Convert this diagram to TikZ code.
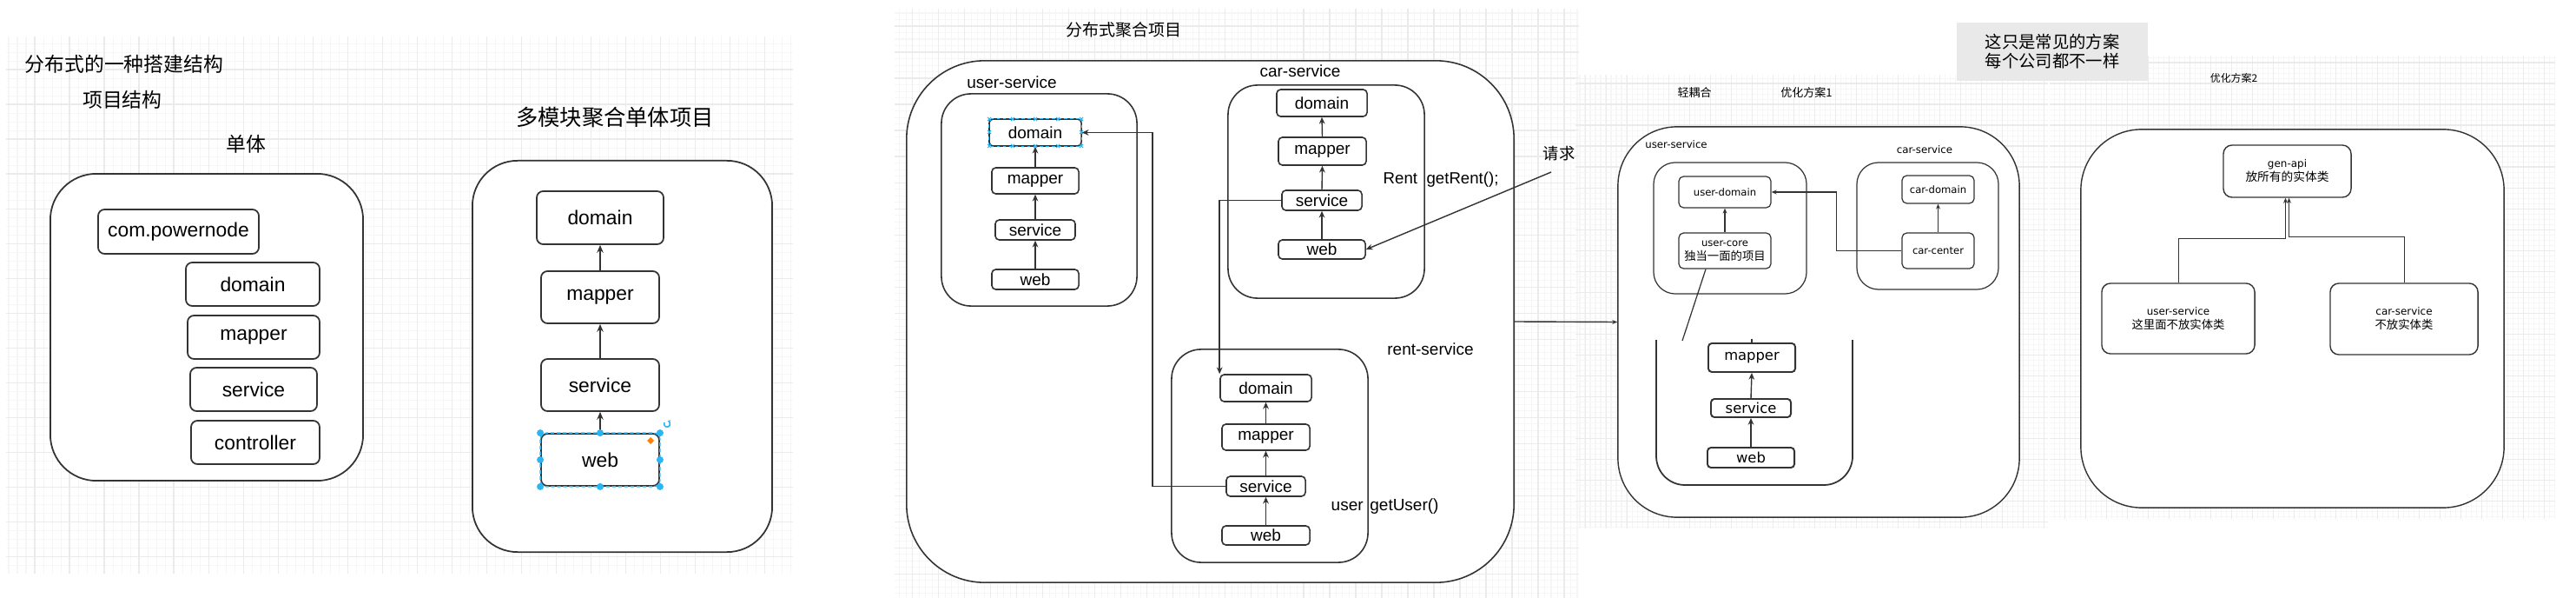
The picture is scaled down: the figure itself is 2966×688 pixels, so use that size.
\documentclass[tikz,border=0pt]{standalone}
\usepackage{fontspec}
\setmainfont{Liberation Sans}
\newfontfamily\cjk{Noto Sans CJK SC}
\newfontfamily\dvs{DejaVu Sans}
\usetikzlibrary{arrows.meta}
\definecolor{ln}{HTML}{333333}
\definecolor{hcol}{HTML}{29B6F2}
\definecolor{gmin}{HTML}{F6F6F6}
\definecolor{gmaj}{HTML}{EBEBEB}
\definecolor{graybox}{HTML}{E9E9E9}
\newcommand\myfs[2]{\fontsize{#1}{#2}\selectfont}
\newcommand\bx[7]{%
  \pgfmathsetmacro\bxw{(#5-#3)/100}%
  \pgfmathsetmacro\bxh{(#6-#4)/100}%
  \pgfmathsetmacro\bxx{(#3+#5)/2}%
  \pgfmathsetmacro\bxy{(#4+#6)/2}%
  \node[#1, minimum width=\bxw cm, minimum height=\bxh cm] (#2) at (\bxx,\bxy) {#7};}
\tikzset{
  box/.style={draw=ln, fill=white, inner sep=0pt, align=center, line width=0.5pt},
  cont/.style={draw=ln, fill=white, inner sep=0pt, line width=0.5pt},
  sonebox/.style={box, rounded corners=0.075cm, font=\myfs{6.5pt}{7.8pt}},
  stwobox/.style={box, rounded corners=0.045cm, line width=0.45pt, font=\myfs{5.4pt}{6.5pt}},
  sthreebox/.style={box, rounded corners=0.055cm, line width=0.35pt, font=\dvs\myfs{3.3pt}{4.55pt}},
  sthreebig/.style={box, rounded corners=0.04cm, line width=0.55pt, font=\dvs\myfs{4.65pt}{5.5pt}},
  sfourbox/.style={box, rounded corners=0.1cm, line width=0.4pt, font=\dvs\myfs{3.4pt}{4.55pt}},
  lab/.style={inner sep=0pt},
  aone/.style={draw=ln, line width=0.45pt, -{Stealth[length=2.5pt,width=2.1pt]}},
  atwo/.style={draw=ln, line width=0.4pt, -{Stealth[length=2.2pt,width=1.9pt]}},
  athree/.style={draw=ln, line width=0.3pt, -{Stealth[length=1.7pt,width=1.4pt]}},
  gridmin/.style={draw=gmin, line width=0.3pt},
  gridmaj/.style={draw=gmaj, line width=0.35pt}
}
\begin{document}
\begin{tikzpicture}[x=0.01cm, y=-0.01cm]
\useasboundingbox (0,688) rectangle (2966,0);
\fill[white] (0,688) rectangle (2966,0);
% background grids
\draw[gridmin, step=0.1cm] (7,660) grid (913,42);
\draw[gridmaj, step=0.4cm] (7,660) grid (913,42);
\draw[gridmin, step=0.075cm] (1030,688) grid (1818,10);
\draw[gridmaj, step=0.3cm] (1030,688) grid (1818,10);
\draw[gridmin, step=0.06cm] (1814,608) grid (2358,86);
\draw[gridmaj, step=0.24cm] (1814,608) grid (2358,86);
\draw[gridmin, step=0.06cm] (2360,597) grid (2942,64);
\draw[gridmaj, step=0.24cm] (2360,597) grid (2942,64);

% ---------- section 1 ----------
\node[lab, font=\cjk\myfs{6.5pt}{7.5pt}, anchor=west] (tone) at (28,74) {分布式的一种搭建结构};
\node[lab, font=\cjk\myfs{6.5pt}{7.5pt}] (ttwo) at (141,115) {项目结构};
\node[lab, font=\cjk\myfs{6.5pt}{7.5pt}] (tthree) at (283,166) {单体};
\bx{cont, rounded corners=0.53cm}{mono}{58}{200}{418}{553}{}
\bx{sonebox}{pkg}{113}{241}{298}{292}{com.powernode}
\bx{sonebox}{dA}{214}{302}{368}{352}{domain}
\bx{sonebox}{mA}{216}{363}{368}{413}{mapper}
\bx{sonebox}{sA}{219}{423}{365}{473}{service}
\bx{sonebox}{cA}{220}{484}{368}{534}{controller}

\node[lab, font=\cjk\myfs{7.2pt}{8pt}] (tfour) at (708,135) {多模块聚合单体项目};
\bx{cont, rounded corners=0.52cm}{multi}{544}{185}{889}{635}{}
\bx{sonebox}{dB}{618}{220}{764}{281}{domain}
\bx{sonebox}{mB}{623}{312}{759}{372}{mapper}
\bx{sonebox}{sB}{623}{413}{759}{473}{service}
\bx{sonebox}{wB}{623}{499}{759}{559}{web}
\draw[aone] (wB.north) -- (sB.south);
\draw[aone] (sB.north) -- (mB.south);
\draw[aone] (mB.north) -- (dB.south);
% selection handles on web
\draw[hcol, line width=0.4pt, dash pattern=on 1.2pt off 0.8pt, rounded corners=0.075cm] (wB.north west) rectangle (wB.south east);
\foreach \p in {north west,north,north east,east,south east,south,south west,west}
  \fill[hcol] (wB.\p) circle (0.04cm);
\draw[hcol, line width=0.45pt, -{Stealth[length=1pt,width=1pt]}] (765,486) arc[start angle=150, end angle=440, radius=0.035cm];
\fill[orange] (749,503) -- (753,507) -- (749,511) -- (745,507) -- cycle;

% ---------- section 2 ----------
\node[lab, font=\cjk\myfs{5.4pt}{6.5pt}] (tfive) at (1294,34) {分布式聚合项目};
\bx{cont, rounded corners=0.9cm, line width=0.45pt}{agg}{1044}{70}{1743}{670}{}
\node[lab, font=\myfs{5.4pt}{6.5pt}] (lu) at (1165,95) {user-service};
\bx{cont, rounded corners=0.34cm, line width=0.45pt}{usvc}{1084}{108}{1309}{352}{}
\bx{stwobox}{ud}{1139}{137}{1245}{168}{domain}
\bx{stwobox}{um}{1142}{193}{1242}{223}{mapper}
\bx{stwobox}{us}{1146}{253}{1238}{276}{service}
\bx{stwobox}{uw}{1142}{310}{1242}{333}{web}
\draw[atwo] (uw.north) -- (us.south);
\draw[atwo] (us.north) -- (um.south);
\draw[atwo] (um.north) -- (ud.south);
\draw[hcol, line width=0.3pt, dash pattern=on 1pt off 1pt] (ud.north west) rectangle (ud.south east);
\foreach \xx in {1139,1166,1192,1218,1245}{
  \foreach \yy in {137,168}{
    \draw[hcol, line width=0.3pt] (\xx-2,\yy-2) -- (\xx+2,\yy+2) (\xx-2,\yy+2) -- (\xx+2,\yy-2);}}
\foreach \xx in {1139,1245}{
  \draw[hcol, line width=0.3pt] (\xx-2,150) -- (\xx+2,154) (\xx-2,154) -- (\xx+2,150);}

\node[lab, font=\myfs{5.4pt}{6.5pt}] (lc) at (1497,82) {car-service};
\bx{cont, rounded corners=0.34cm, line width=0.45pt}{csvc}{1414}{98}{1640}{343}{}
\bx{stwobox}{cd}{1470}{103}{1574}{134}{domain}
\bx{stwobox}{cm}{1472}{158}{1573}{190}{mapper}
\bx{stwobox}{cs}{1476}{219}{1568}{242}{service}
\bx{stwobox}{cw}{1472}{276}{1572}{298}{web}
\draw[atwo] (cw.north) -- (cs.south);
\draw[atwo] (cs.north) -- (cm.south);
\draw[atwo] (cm.north) -- (cd.south);
\node[lab, font=\myfs{5.3pt}{6.5pt}, anchor=west] (rent) at (1592,207) {Rent\hspace{3pt}getRent();};
\node[lab, font=\cjk\myfs{5.2pt}{6.5pt}] (req) at (1795,177) {请求};

\node[lab, font=\myfs{5.4pt}{6.5pt}] (lr) at (1647,402) {rent-service};
\bx{cont, rounded corners=0.34cm, line width=0.45pt}{rsvc}{1349}{402}{1575}{647}{}
\bx{stwobox}{rd}{1405}{431}{1510}{462}{domain}
\bx{stwobox}{rm}{1407}{488}{1508}{518}{mapper}
\bx{stwobox}{rs}{1412}{548}{1503}{571}{service}
\bx{stwobox}{rw}{1407}{605}{1508}{627}{web}
\draw[atwo] (rw.north) -- (rs.south);
\draw[atwo] (rs.north) -- (rm.south);
\draw[atwo] (rm.north) -- (rd.south);
\node[lab, font=\myfs{5.4pt}{6.5pt}, anchor=west] (ug) at (1532,583) {user\hspace{2.2pt}getUser()};

\draw[atwo] (cs.west) -| (rd.north west);
\draw[atwo] (rs.west) -- ++(-84,0) |- (ud.east);
\coordinate (reqs) at (1786,198);
\draw[atwo] (reqs) -- (cw.east);

% ---------- section 3 ----------
\node[lab, font=\cjk\myfs{3.7pt}{4.5pt}] (lq) at (1951,107) {轻耦合};
\node[lab, font=\cjk\myfs{3.7pt}{4.5pt}] (loa) at (2080,107) {优化方案1};
\bx{cont, rounded corners=0.68cm, line width=0.4pt}{opta}{1863}{146}{2325}{595}{}
\draw[athree, line width=0.4pt] (agg.east) -- (opta.west);
\node[lab, font=\dvs\myfs{3.35pt}{4pt}] (ltu) at (1930,166) {user-service};
\node[lab, font=\dvs\myfs{3.35pt}{4pt}] (ltc) at (2216,172) {car-service};
\bx{cont, rounded corners=0.25cm, line width=0.35pt}{uthree}{1904}{187}{2080}{338}{}
\bx{sthreebox}{udom}{1933}{203}{2039}{239}{user-domain}
\bx{sthreebox}{core}{1933}{268}{2039}{309}{user-core\\{\cjk\myfs{3.8pt}{4.55pt}独当一面的项目}}
\bx{cont, rounded corners=0.25cm, line width=0.35pt}{cthree}{2138}{187}{2301}{333}{}
\bx{sthreebox}{cdom}{2190}{202}{2273}{234}{car-domain}
\bx{sthreebox}{ccen}{2190}{268}{2273}{309}{car-center}
\draw[athree] (core.north) -- (udom.south);
\draw[athree] (ccen.north) -- (cdom.south);
\draw[athree] (ccen.west) -- ++(-75,0) |- (udom.east);
\coordinate (dg) at (1937,392);
\draw[ln, line width=0.35pt] (core.south) ++(-22,0) -- (dg);
\draw[ln, line width=0.5pt, rounded corners=0.33cm] (1907,391) -- (1907,558) -- (2133,558) -- (2133,391);
\bx{sthreebig}{lm}{1967}{395}{2067}{428}{mapper}
\bx{sthreebig}{lsv}{1970}{459}{2062}{480}{service}
\bx{sthreebig}{lw}{1966}{515}{2066}{538}{web}
\draw[atwo] (lw.north) -- (lsv.south);
\draw[atwo] (lsv.north) -- (lm.south);
\draw[ln, line width=0.35pt] (lm.north) -- ++(0,-4);

\bx{fill=graybox, inner sep=0pt, align=left, font=\cjk\myfs{5.5pt}{6.26pt}}{note}{2253}{26}{2473}{93}{这只是常见的方案\\每个公司都不一样}

% ---------- section 4 ----------
\node[lab, font=\cjk\myfs{3.4pt}{4.2pt}] (lob) at (2572,90) {优化方案2};
\bx{cont, rounded corners=0.7cm, line width=0.4pt}{optb}{2396}{149}{2883}{584}{}
\bx{sfourbox}{gen}{2560}{167}{2707}{227}{gen-api\\{\cjk\myfs{3.9pt}{4.55pt}放所有的实体类}}
\bx{sfourbox}{usf}{2420}{326}{2596}{407}{user-service\\{\cjk\myfs{3.8pt}{4.55pt}这里面不放实体类}}
\bx{sfourbox}{csf}{2683}{326}{2853}{408}{car-service\\{\cjk\myfs{3.8pt}{4.55pt}不放实体类}}
\draw[athree] (usf.north) -- ++(0,-51) -| ([xshift=-0.02cm]gen.south);
\draw[athree] (csf.north) -- ++(0,-53) -| ([xshift=0.02cm]gen.south);
\end{tikzpicture}
\end{document}
